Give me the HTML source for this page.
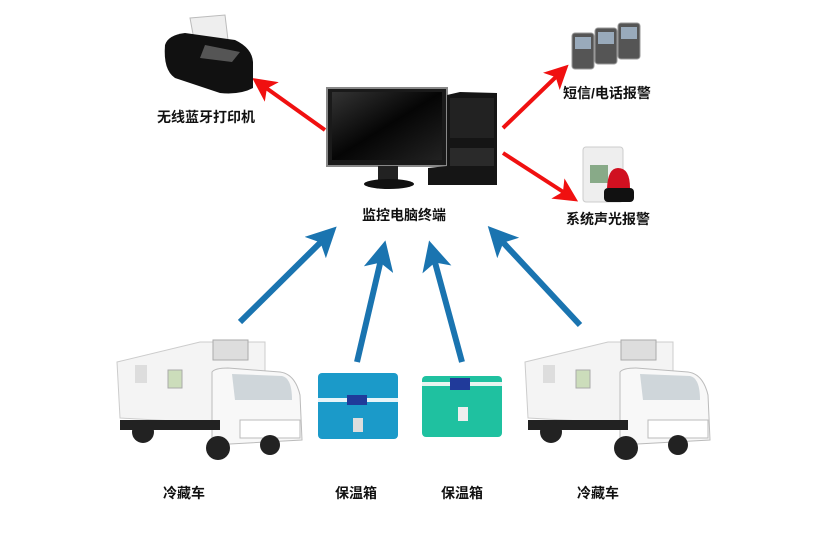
<!DOCTYPE html>
<html><head><meta charset="utf-8"><style>
html,body{margin:0;padding:0;background:#fff;}
svg text{font-family:"Liberation Sans","Noto Sans CJK SC",sans-serif;font-weight:bold;font-size:14px;fill:#111;}
</style></head><body>
<svg width="823" height="531" viewBox="0 0 823 531" xmlns="http://www.w3.org/2000/svg">
<defs>
<marker id="rh" markerWidth="6" markerHeight="6" refX="3" refY="3" orient="auto" markerUnits="strokeWidth"><path d="M0,0 L6,3 L0,6 L1.5,3z" fill="#f01010"/></marker>
<marker id="bh" markerWidth="5" markerHeight="5" refX="2.5" refY="2.5" orient="auto" markerUnits="strokeWidth"><path d="M0,0 L5,2.5 L0,5 L1.2,2.5z" fill="#1a74b0"/></marker>
<linearGradient id="scr" x1="0" y1="0" x2="1" y2="1"><stop offset="0" stop-color="#333"/><stop offset="0.5" stop-color="#050505"/><stop offset="1" stop-color="#222"/></linearGradient>
</defs>
<!-- red arrows -->
<g stroke="#f01010" stroke-width="4" fill="none">
<line x1="325" y1="130" x2="262" y2="85" marker-end="url(#rh)"/>
<line x1="503" y1="128" x2="560" y2="73" marker-end="url(#rh)"/>
<line x1="503" y1="153" x2="568" y2="195" marker-end="url(#rh)"/>
</g>
<!-- blue arrows -->
<g stroke="#1a74b0" stroke-width="6" fill="none">
<line x1="240" y1="322" x2="326" y2="237" marker-end="url(#bh)"/>
<line x1="357" y1="362" x2="382" y2="255" marker-end="url(#bh)"/>
<line x1="462" y1="362" x2="433" y2="255" marker-end="url(#bh)"/>
<line x1="580" y1="325" x2="498" y2="237" marker-end="url(#bh)"/>
</g>
<!-- printer -->
<path d="M190,18 L225,15 L228,40 L195,45z" fill="#eee" stroke="#bbb"/>
<path d="M165,45 Q168,35 185,33 L235,40 Q252,48 253,62 L253,88 Q240,95 220,93 L175,78 Q163,70 165,45z" fill="#111"/>
<path d="M205,45 L240,52 L232,62 L200,58z" fill="#555"/>
<!-- computer -->
<rect x="327" y="88" width="120" height="78" fill="#1a1a1a" stroke="#888" stroke-width="2"/>
<rect x="332" y="92" width="110" height="68" fill="url(#scr)"/>
<rect x="378" y="166" width="20" height="14" fill="#222"/>
<ellipse cx="389" cy="184" rx="25" ry="5" fill="#111"/>
<path d="M447,95 L460,92 L497,93 L497,185 L428,185 L428,168 L447,166z" fill="#151515"/>
<rect x="450" y="98" width="44" height="40" fill="#222"/>
<rect x="450" y="148" width="44" height="18" fill="#2a2a2a"/>
<!-- phones -->
<rect x="572" y="33" width="22" height="36" rx="3" fill="#555" stroke="#999"/>
<rect x="595" y="28" width="22" height="36" rx="3" fill="#555" stroke="#999"/>
<rect x="618" y="23" width="22" height="36" rx="3" fill="#555" stroke="#999"/>
<rect x="575" y="37" width="16" height="12" fill="#9ab"/><rect x="598" y="32" width="16" height="12" fill="#9ab"/><rect x="621" y="27" width="16" height="12" fill="#9ab"/>
<!-- alarm -->
<rect x="583" y="147" width="40" height="55" rx="3" fill="#eee" stroke="#ccc"/>
<rect x="590" y="165" width="18" height="18" fill="#8a8"/>
<path d="M607,188 Q608,168 618,168 Q630,168 630,188z" fill="#d01020"/>
<rect x="604" y="188" width="30" height="14" rx="4" fill="#111"/>
<!-- labels top -->
<text x="157" y="122">无线蓝牙打印机</text>
<text x="362" y="220">监控电脑终端</text>
<text x="563" y="98">短信/电话报警</text>
<text x="566" y="224">系统声光报警</text>
<!-- left truck -->
<g id="truck">
<path d="M117,362 L200,342 L265,342 L265,426 L120,418z" fill="#f4f4f4" stroke="#ccc"/>
<rect x="213" y="340" width="35" height="20" fill="#ddd" stroke="#aaa"/>
<path d="M212,372 Q215,368 228,368 L280,372 Q295,374 300,395 L302,440 L212,445z" fill="#f8f8f8" stroke="#bbb"/>
<path d="M232,374 L282,376 Q292,378 292,400 L235,400z" fill="#cfd6da"/>
<rect x="240" y="420" width="60" height="18" fill="#fff" stroke="#bbb"/>
<rect x="120" y="420" width="100" height="10" fill="#222"/>
<circle cx="143" cy="432" r="11" fill="#222"/><circle cx="218" cy="448" r="12" fill="#222"/><circle cx="270" cy="445" r="10" fill="#222"/>
<rect x="135" y="365" width="12" height="18" fill="#ddd"/><rect x="168" y="370" width="14" height="18" fill="#cdb" stroke="#aaa"/>
</g>
<use href="#truck" transform="translate(408,0)"/>
<!-- boxes -->
<rect x="318" y="373" width="80" height="66" rx="4" fill="#1b9ac9"/>
<rect x="318" y="398" width="80" height="4" fill="#e8f4f8"/>
<rect x="347" y="395" width="20" height="10" fill="#203a9a"/>
<rect x="353" y="418" width="10" height="14" fill="#ddd"/>
<rect x="422" y="376" width="80" height="61" rx="4" fill="#1fc1a0"/>
<rect x="422" y="382" width="80" height="4" fill="#e8f4f0"/>
<rect x="450" y="378" width="20" height="12" fill="#203a9a"/>
<rect x="458" y="407" width="10" height="14" fill="#eee"/>
<!-- bottom labels -->
<text x="163" y="498">冷藏车</text>
<text x="335" y="498">保温箱</text>
<text x="441" y="498">保温箱</text>
<text x="577" y="498">冷藏车</text>
</svg>
</body></html>
